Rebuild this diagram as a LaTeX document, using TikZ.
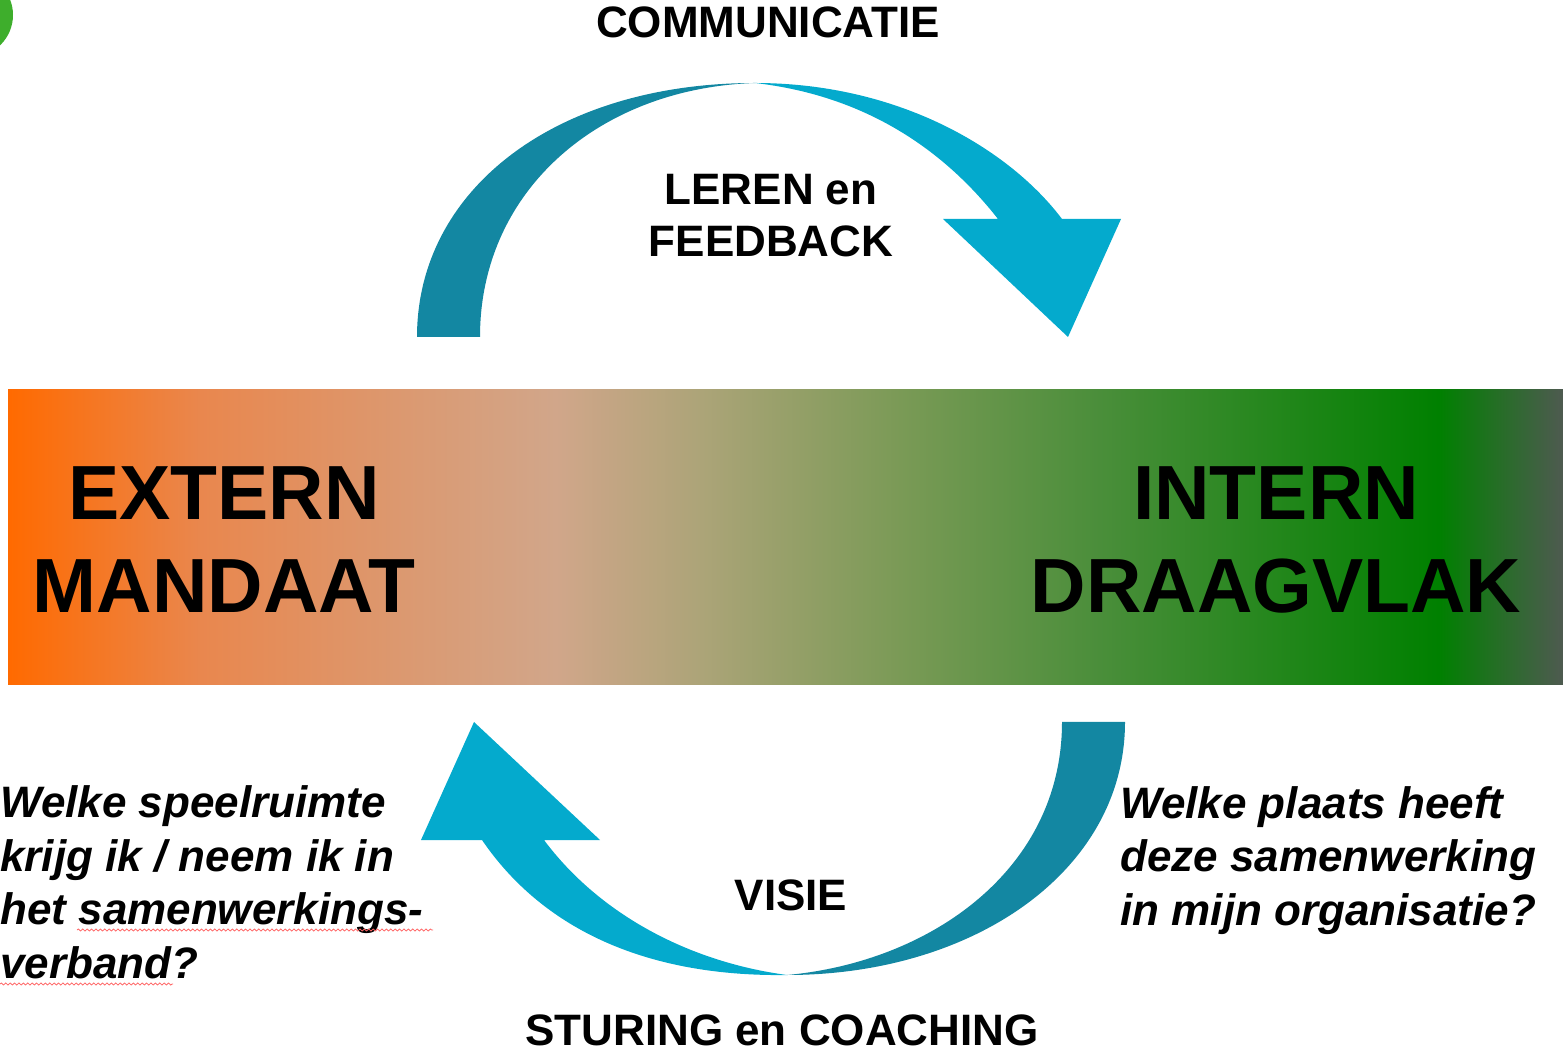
\documentclass[tikz,border=0pt]{standalone}
\usepackage{fontspec}
\setmainfont{Liberation Sans}
\usetikzlibrary{decorations.pathmorphing}

\definecolor{arrowdark}{RGB}{19,135,162}
\definecolor{arrowlight}{RGB}{4,170,205}
\definecolor{badge}{RGB}{62,174,44}
\definecolor{bar0}{RGB}{255,106,0}
\definecolor{bar1}{RGB}{233,135,78}
\definecolor{bar2}{RGB}{209,166,138}
\definecolor{bar3}{RGB}{172,164,120}
\definecolor{bar4}{RGB}{122,154,86}
\definecolor{bar5}{RGB}{74,142,58}
\definecolor{bar6}{RGB}{0,128,0}
\definecolor{bar7}{RGB}{78,90,80}

% orange -> green band, stops live between 25bp and 75bp
\pgfdeclarehorizontalshading{barshade}{100bp}{%
  color(0bp)=(bar0); color(25bp)=(bar0); color(31.2bp)=(bar1);
  color(42.6bp)=(bar2); color(47.3bp)=(bar3); color(53.7bp)=(bar4);
  color(60.1bp)=(bar5); color(71bp)=(bar6); color(75bp)=(bar7);
  color(100bp)=(bar7)}

\tikzset{
  bigword/.style={font=\bfseries\fontsize{38.4}{46.5}\selectfont, align=center, inner sep=0pt},
  loopword/.style={font=\bfseries\fontsize{22}{26}\selectfont, align=center, inner sep=0pt},
  question/.style={font=\bfseries\itshape\fontsize{22}{26.7}\selectfont, align=left, inner sep=0pt},
  backpart/.style={fill=arrowdark},
  frontpart/.style={fill=arrowlight},
  squiggle/.style={draw=red!60, line width=0.4pt,
    decorate, decoration={snake, amplitude=0.5pt, segment length=2.2pt}}
}

\begin{document}
\begin{tikzpicture}[x=0.5pt,y=-0.5pt]
\useasboundingbox (0,0) rectangle (1563,1052);

% corner badge
\fill[badge] (-29,15) circle[radius=21pt];

% gradient band
\shade[shading=barshade] (8,390) rectangle (1563,685);

% upper loop arrow
\path[backpart] (417,337) .. controls (417,190) and (555,83) .. (755,83)
  .. controls (600,88) and (480,190) .. (480,337) -- cycle;
\path[frontpart] (755,83) .. controls (900,83) and (1010,150) .. (1062,219)
  -- (1121,219) -- (1068,337) -- (943,219) -- (998,219)
  .. controls (940,145) and (860,95) .. (755,83) -- cycle;

% lower loop arrow
\path[backpart] (1125,722) .. controls (1125,870) and (975,975) .. (787,975)
  .. controls (930,962) and (1062,870) .. (1062,722) -- cycle;
\path[frontpart] (787,975) .. controls (640,977) and (540,925) .. (482,840)
  -- (421,840) -- (474,722) -- (600,840) -- (544,840)
  .. controls (600,915) and (690,962) .. (787,975) -- cycle;

% band labels (base = last line)
\node[bigword, anchor=base] (extern) at (224,613) {EXTERN\\MANDAAT};
\node[bigword, anchor=base] (intern) at (1276,613) {INTERN\\DRAAGVLAK};

% loop labels
\node[loopword, anchor=base] (comm) at (768,38) {COMMUNICATIE};
\node[loopword, anchor=base] (leren) at (771,257) {LEREN en\\FEEDBACK};
\node[loopword, anchor=base] (visie) at (791,910) {VISIE};
\node[loopword, anchor=base] (sturing) at (782,1045) {STURING en COACHING};

% questions
\node[question, anchor=base west] (speel) at (0,978)
  {Welke speelruimte\\krijg ik / neem ik in\\het samenwerkings-\\verband?};
\node[question, anchor=base west] (plaats) at (1120,925)
  {Welke plaats heeft\\deze samenwerking\\in mijn organisatie?};

% spell-check marks
\draw[squiggle] (77,930) -- (433,930);
\draw[squiggle] (0,984) -- (173,984);
\end{tikzpicture}
\end{document}
